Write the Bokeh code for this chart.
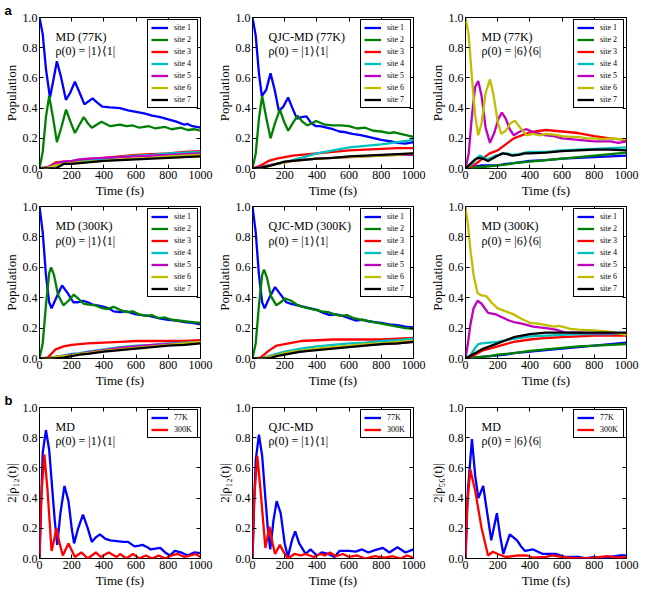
from bokeh.plotting import figure
from bokeh.layouts import gridplot
from bokeh.models import Label, LinearAxis, Range1d, FixedTicker, PrintfTickFormatter
from bokeh.embed import file_html
from bokeh.resources import INLINE

FONT = "Liberation Serif"
SITE_COLORS = ["#0000ff", "#008000", "#ff0000", "#00bfbf", "#bf00bf", "#bfbf00", "#000000"]
SITE_NAMES = ["site 1", "site 2", "site 3", "site 4", "site 5", "site 6", "site 7"]
TEMP_COLORS = ["#0000ff", "#ff0000"]
TEMP_NAMES = ["77K", "300K"]
X_TICKS = [0, 200, 400, 600, 800, 1000]
Y_TICKS = [0.0, 0.2, 0.4, 0.6, 0.8, 1.0]

# common coarse time grid for slowly varying populations (fs)
T_SLOW = [0, 50, 100, 150, 200, 250, 300, 400, 500, 600, 700, 800, 900, 1000]

# ---------------- a: MD (77K), rho(0)=|1><1| ----------------
A1_S1_T = [0, 20, 40, 65, 85, 108, 135, 164, 190, 220, 250, 279, 305, 329, 355, 390, 440, 500, 550, 600, 650, 700, 750, 800, 850, 900, 920, 950, 1000]
A1_S1 = [1.0, 0.89, 0.66, 0.47, 0.58, 0.71, 0.60, 0.455, 0.50, 0.575, 0.50, 0.425, 0.445, 0.465, 0.44, 0.41, 0.405, 0.40, 0.385, 0.375, 0.365, 0.35, 0.34, 0.325, 0.31, 0.29, 0.295, 0.28, 0.27]
A1_S2_T = [0, 20, 40, 60, 85, 108, 135, 165, 192, 220, 248, 275, 300, 325, 355, 385, 440, 500, 540, 580, 620, 680, 720, 780, 820, 880, 920, 960, 1000]
A1_S2 = [0.0, 0.11, 0.34, 0.48, 0.33, 0.175, 0.27, 0.39, 0.31, 0.235, 0.29, 0.34, 0.30, 0.27, 0.29, 0.31, 0.28, 0.29, 0.28, 0.285, 0.27, 0.28, 0.265, 0.275, 0.26, 0.27, 0.255, 0.26, 0.25]
A1_S3 = [0, 0.005, 0.04, 0.045, 0.045, 0.055, 0.06, 0.07, 0.08, 0.09, 0.095, 0.10, 0.11, 0.115]
A1_S4 = [0, 0.005, 0.02, 0.03, 0.035, 0.045, 0.05, 0.065, 0.075, 0.085, 0.09, 0.10, 0.105, 0.11]
A1_S5 = [0, 0.01, 0.03, 0.045, 0.05, 0.06, 0.065, 0.07, 0.075, 0.08, 0.085, 0.09, 0.095, 0.10]
A1_S6 = [0, 0.005, 0.02, 0.03, 0.035, 0.04, 0.045, 0.05, 0.06, 0.065, 0.07, 0.08, 0.085, 0.09]
A1_S7 = [0, 0.0, 0.0, 0.03, 0.03, 0.035, 0.04, 0.05, 0.055, 0.06, 0.065, 0.07, 0.075, 0.08]

# ---------------- a: QJC-MD (77K), rho(0)=|1><1| ----------------
A2_S1_T = [0, 20, 40, 58, 85, 112, 138, 164, 192, 221, 248, 276, 305, 335, 365, 395, 420, 460, 500, 540, 580, 620, 680, 720, 760, 800, 860, 900, 950, 1000]
A2_S1 = [1.0, 0.88, 0.63, 0.48, 0.52, 0.63, 0.52, 0.38, 0.41, 0.47, 0.40, 0.33, 0.34, 0.345, 0.30, 0.28, 0.28, 0.27, 0.26, 0.245, 0.24, 0.23, 0.22, 0.21, 0.20, 0.19, 0.18, 0.17, 0.165, 0.175]
A2_S2_T = [0, 20, 40, 60, 85, 112, 140, 170, 196, 222, 250, 280, 310, 340, 368, 395, 450, 500, 550, 600, 650, 700, 750, 800, 850, 880, 920, 960, 1000]
A2_S2 = [0.0, 0.10, 0.33, 0.48, 0.34, 0.20, 0.30, 0.39, 0.31, 0.25, 0.30, 0.35, 0.31, 0.285, 0.30, 0.315, 0.29, 0.285, 0.285, 0.28, 0.265, 0.27, 0.25, 0.245, 0.235, 0.24, 0.23, 0.22, 0.21]
A2_S3 = [0, 0.02, 0.05, 0.065, 0.075, 0.085, 0.09, 0.10, 0.11, 0.12, 0.125, 0.13, 0.135, 0.135]
A2_S4 = [0, 0.005, 0.02, 0.03, 0.04, 0.055, 0.07, 0.10, 0.12, 0.14, 0.15, 0.16, 0.175, 0.19]
A2_S5 = [0, 0.01, 0.02, 0.03, 0.04, 0.05, 0.055, 0.065, 0.07, 0.075, 0.08, 0.085, 0.09, 0.09]
A2_S6 = [0, 0.005, 0.015, 0.03, 0.04, 0.05, 0.055, 0.065, 0.07, 0.075, 0.08, 0.085, 0.09, 0.10]
A2_S7 = [0, 0.005, 0.015, 0.03, 0.045, 0.05, 0.055, 0.065, 0.07, 0.08, 0.085, 0.09, 0.095, 0.10]

# ---------------- a: MD (77K), rho(0)=|6><6| ----------------
A3_S1 = [0, 0.01, 0.02, 0.02, 0.02, 0.03, 0.035, 0.05, 0.055, 0.065, 0.07, 0.075, 0.08, 0.085]
A3_S2 = [0, 0.005, 0.01, 0.015, 0.02, 0.025, 0.035, 0.045, 0.055, 0.065, 0.075, 0.085, 0.095, 0.105]
A3_S3 = [0, 0.02, 0.06, 0.10, 0.12, 0.16, 0.20, 0.24, 0.255, 0.245, 0.235, 0.215, 0.20, 0.19]
A3_S4_T = [0, 40, 70, 90, 110, 130, 160, 185, 210, 235, 260, 290, 330, 370, 400, 500, 600, 700, 800, 900, 1000]
A3_S4 = [0, 0.03, 0.07, 0.085, 0.075, 0.06, 0.07, 0.085, 0.09, 0.10, 0.10, 0.09, 0.095, 0.105, 0.11, 0.11, 0.12, 0.125, 0.13, 0.135, 0.14]
A3_S5_T = [0, 20, 40, 60, 79, 100, 125, 152, 180, 205, 226, 250, 275, 300, 330, 360, 380, 420, 460, 500, 550, 600, 650, 700, 750, 800, 850, 900, 950, 1000]
A3_S5 = [0.0, 0.10, 0.35, 0.54, 0.58, 0.48, 0.27, 0.17, 0.24, 0.33, 0.37, 0.33, 0.26, 0.22, 0.24, 0.255, 0.26, 0.24, 0.23, 0.22, 0.215, 0.20, 0.195, 0.19, 0.185, 0.18, 0.18, 0.18, 0.17, 0.18]
A3_S6_T = [0, 20, 40, 60, 79, 100, 125, 152, 175, 200, 222, 250, 280, 307, 340, 380, 420, 460, 500, 550, 600, 650, 700, 750, 800, 850, 900, 950, 1000]
A3_S6 = [1.0, 0.88, 0.60, 0.35, 0.22, 0.30, 0.50, 0.59, 0.48, 0.31, 0.23, 0.25, 0.30, 0.317, 0.27, 0.22, 0.23, 0.22, 0.23, 0.225, 0.215, 0.21, 0.21, 0.20, 0.20, 0.195, 0.20, 0.195, 0.195]
A3_S7_T = [0, 40, 60, 80, 110, 140, 165, 190, 230, 260, 290, 330, 370, 400, 500, 600, 700, 800, 900, 1000]
A3_S7 = [0, 0.04, 0.06, 0.07, 0.065, 0.05, 0.065, 0.08, 0.10, 0.095, 0.085, 0.09, 0.10, 0.10, 0.105, 0.115, 0.12, 0.125, 0.125, 0.12]

# ---------------- a: MD (300K), rho(0)=|1><1| ----------------
B1_S1_T = [0, 20, 40, 60, 75, 100, 140, 175, 210, 240, 270, 300, 330, 360, 400, 430, 460, 500, 540, 570, 600, 640, 680, 720, 760, 800, 850, 900, 950, 1000]
B1_S1 = [1.0, 0.83, 0.55, 0.37, 0.33, 0.39, 0.48, 0.43, 0.37, 0.37, 0.38, 0.37, 0.355, 0.35, 0.34, 0.33, 0.31, 0.305, 0.31, 0.30, 0.29, 0.285, 0.28, 0.27, 0.26, 0.255, 0.25, 0.24, 0.235, 0.225]
B1_S2_T = [0, 20, 40, 60, 72, 90, 115, 148, 180, 212, 245, 275, 310, 345, 380, 420, 460, 500, 540, 580, 620, 660, 700, 740, 780, 820, 860, 900, 950, 1000]
B1_S2 = [0.0, 0.10, 0.35, 0.56, 0.60, 0.55, 0.42, 0.35, 0.38, 0.42, 0.39, 0.36, 0.355, 0.35, 0.335, 0.325, 0.34, 0.32, 0.305, 0.31, 0.29, 0.28, 0.285, 0.265, 0.27, 0.255, 0.25, 0.245, 0.24, 0.235]
B1_S3 = [0, 0.005, 0.06, 0.08, 0.09, 0.095, 0.10, 0.105, 0.11, 0.115, 0.115, 0.115, 0.115, 0.12]
B1_S4 = [0, 0.0, 0.01, 0.02, 0.03, 0.035, 0.045, 0.06, 0.075, 0.085, 0.09, 0.10, 0.105, 0.11]
B1_S5 = [0, 0.0, 0.01, 0.015, 0.025, 0.03, 0.04, 0.055, 0.07, 0.08, 0.09, 0.095, 0.10, 0.11]
B1_S6 = [0, 0.0, 0.01, 0.015, 0.02, 0.03, 0.035, 0.05, 0.06, 0.07, 0.08, 0.09, 0.10, 0.11]
B1_S7 = [0, 0.0, 0.0, 0.005, 0.015, 0.025, 0.03, 0.045, 0.055, 0.065, 0.075, 0.085, 0.09, 0.10]

# ---------------- a: QJC-MD (300K), rho(0)=|1><1| ----------------
B2_S1_T = [0, 20, 40, 60, 75, 100, 140, 175, 210, 240, 280, 320, 360, 400, 440, 480, 520, 560, 600, 640, 680, 720, 760, 800, 850, 900, 950, 1000]
B2_S1 = [1.0, 0.83, 0.55, 0.37, 0.33, 0.39, 0.47, 0.42, 0.37, 0.36, 0.35, 0.34, 0.33, 0.32, 0.30, 0.285, 0.29, 0.28, 0.265, 0.25, 0.255, 0.245, 0.24, 0.235, 0.225, 0.22, 0.21, 0.205]
B2_S2_T = [0, 20, 40, 60, 72, 90, 115, 148, 175, 205, 240, 275, 310, 350, 390, 430, 470, 510, 550, 590, 630, 670, 710, 750, 800, 850, 900, 950, 1000]
B2_S2 = [0.0, 0.10, 0.35, 0.55, 0.585, 0.53, 0.41, 0.35, 0.37, 0.395, 0.38, 0.355, 0.34, 0.33, 0.32, 0.31, 0.305, 0.29, 0.28, 0.285, 0.265, 0.255, 0.25, 0.24, 0.23, 0.22, 0.21, 0.20, 0.195]
B2_S3 = [0, 0.005, 0.05, 0.085, 0.095, 0.105, 0.115, 0.12, 0.125, 0.125, 0.125, 0.125, 0.13, 0.135]
B2_S4 = [0, 0.0, 0.015, 0.03, 0.045, 0.055, 0.065, 0.08, 0.09, 0.10, 0.105, 0.115, 0.12, 0.13]
B2_S5 = [0, 0.0, 0.01, 0.02, 0.03, 0.04, 0.045, 0.06, 0.07, 0.08, 0.09, 0.095, 0.10, 0.11]
B2_S6 = [0, 0.0, 0.01, 0.02, 0.035, 0.045, 0.05, 0.065, 0.075, 0.085, 0.095, 0.10, 0.11, 0.115]
B2_S7 = [0, 0.0, 0.0, 0.015, 0.025, 0.035, 0.045, 0.055, 0.065, 0.075, 0.085, 0.095, 0.10, 0.11]

# ---------------- a: MD (300K), rho(0)=|6><6| ----------------
B3_S1 = [0, 0.005, 0.01, 0.015, 0.02, 0.025, 0.035, 0.045, 0.055, 0.065, 0.075, 0.085, 0.095, 0.105]
B3_S2 = [0, 0.005, 0.01, 0.015, 0.025, 0.03, 0.035, 0.05, 0.06, 0.07, 0.08, 0.085, 0.09, 0.095]
B3_S3 = [0, 0.02, 0.05, 0.065, 0.08, 0.095, 0.11, 0.125, 0.135, 0.14, 0.145, 0.15, 0.15, 0.15]
B3_S4_T = [0, 30, 60, 80, 100, 150, 200, 300, 400, 500, 600, 700, 800, 900, 1000]
B3_S4 = [0, 0.02, 0.07, 0.095, 0.10, 0.105, 0.11, 0.13, 0.145, 0.15, 0.155, 0.16, 0.16, 0.16, 0.165]
B3_S5_T = [0, 15, 30, 50, 75, 100, 140, 190, 230, 270, 300, 350, 420, 500, 560, 620, 700, 800, 900, 1000]
B3_S5 = [0, 0.10, 0.22, 0.33, 0.38, 0.36, 0.30, 0.29, 0.27, 0.25, 0.24, 0.23, 0.21, 0.20, 0.19, 0.17, 0.17, 0.165, 0.165, 0.165]
B3_S6_T = [0, 15, 30, 50, 75, 100, 130, 160, 200, 250, 300, 350, 400, 450, 500, 550, 580, 620, 650, 700, 800, 900, 950, 1000]
B3_S6 = [1.0, 0.88, 0.72, 0.55, 0.43, 0.415, 0.41, 0.37, 0.33, 0.31, 0.29, 0.26, 0.235, 0.23, 0.22, 0.21, 0.215, 0.205, 0.195, 0.19, 0.185, 0.175, 0.165, 0.155]
B3_S7 = [0, 0.03, 0.06, 0.08, 0.10, 0.12, 0.14, 0.16, 0.17, 0.17, 0.17, 0.17, 0.17, 0.17]

# ---------------- b: coherences 2|rho_ij(t)| ----------------
C1_77_T = [0, 10, 20, 40, 60, 80, 95, 110, 130, 155, 180, 200, 215, 240, 270, 300, 325, 350, 375, 410, 440, 480, 520, 550, 590, 620, 640, 670, 690, 720, 750, 780, 810, 840, 880, 920, 960, 1000]
C1_77 = [0, 0.35, 0.70, 0.85, 0.72, 0.45, 0.25, 0.09, 0.30, 0.48, 0.38, 0.20, 0.10, 0.20, 0.29, 0.20, 0.11, 0.14, 0.16, 0.13, 0.12, 0.115, 0.11, 0.11, 0.08, 0.085, 0.09, 0.075, 0.06, 0.065, 0.07, 0.04, 0.02, 0.05, 0.04, 0.02, 0.04, 0.035]
C1_300_T = [0, 10, 30, 50, 75, 90, 105, 125, 145, 180, 220, 260, 300, 350, 380, 430, 480, 500, 540, 580, 620, 660, 700, 740, 780, 820, 860, 900, 940, 970, 1000]
C1_300 = [0, 0.40, 0.69, 0.45, 0.05, 0.12, 0.20, 0.10, 0.02, 0.10, 0.01, 0.04, 0.0, 0.04, 0.01, 0.04, 0.01, 0.03, 0.0, 0.03, 0.0, 0.02, 0.0, 0.02, 0.0, 0.02, 0.03, 0.01, 0.02, 0.03, 0.01]

C2_77_T = [0, 10, 20, 40, 60, 80, 95, 110, 130, 150, 175, 200, 220, 245, 265, 290, 330, 360, 400, 430, 470, 510, 540, 600, 640, 680, 720, 760, 810, 850, 900, 950, 1000]
C2_77 = [0, 0.35, 0.65, 0.82, 0.68, 0.40, 0.20, 0.06, 0.25, 0.38, 0.30, 0.10, 0.01, 0.12, 0.18, 0.10, 0.03, 0.06, 0.02, 0.04, 0.03, 0.01, 0.05, 0.05, 0.045, 0.06, 0.04, 0.055, 0.07, 0.04, 0.075, 0.04, 0.06]
C2_300_T = [0, 10, 30, 50, 80, 105, 125, 140, 170, 195, 220, 260, 300, 330, 380, 420, 450, 480, 520, 560, 600, 650, 700, 760, 820, 870, 920, 960, 1000]
C2_300 = [0, 0.40, 0.68, 0.45, 0.07, 0.21, 0.10, 0.03, 0.09, 0.04, 0.0, 0.03, 0.02, 0.03, 0.01, 0.03, 0.02, 0.04, 0.015, 0.03, 0.01, 0.02, 0.0, 0.015, 0.005, 0.015, 0.0, 0.02, 0.005]

C3_77_T = [0, 15, 40, 60, 80, 110, 135, 160, 195, 215, 235, 275, 320, 345, 370, 420, 480, 560, 620, 700, 750, 800, 850, 900, 960, 1000]
C3_77 = [0, 0.45, 0.79, 0.55, 0.40, 0.48, 0.30, 0.12, 0.30, 0.15, 0.03, 0.16, 0.12, 0.08, 0.05, 0.06, 0.03, 0.03, 0.01, 0.01, 0.0, 0.01, 0.0, 0.01, 0.02, 0.02]
C3_300_T = [0, 10, 30, 60, 100, 140, 170, 200, 250, 330, 380, 420, 500, 540, 600, 700, 800, 880, 950, 1000]
C3_300 = [0, 0.35, 0.59, 0.45, 0.20, 0.02, 0.045, 0.03, 0.01, 0.02, 0.02, 0.005, 0.01, 0.02, 0.01, 0.0, 0.005, 0.015, 0.005, 0.01]

FRAME_H = 154


def make_panel(title, state, ylabel, series, names, colors, top, width=213, letter=None):
    p = figure(width=width, height=FRAME_H + top + 30,
               x_range=Range1d(0, 1000), y_range=Range1d(0, 1),
               output_backend="svg", toolbar_location=None,
               min_border_left=36, min_border_right=width - 36 - 164,
               min_border_top=top, min_border_bottom=30,
               background_fill_color="white", border_fill_color="white")
    p.grid.visible = False
    p.outline_line_color = "black"
    p.outline_line_width = 1
    p.outline_line_alpha = 1

    for (t, y), name, c in zip(series, names, colors):
        p.line(t, y, line_color=c, line_width=2.3, legend_label=name)

    for ax in (p.xaxis[0], p.yaxis[0]):
        ax.major_tick_in = 4
        ax.major_tick_out = 0
        ax.minor_tick_line_color = None
        ax.axis_line_color = None
        ax.major_tick_line_color = "black"
        ax.major_label_text_font = FONT
        ax.major_label_text_font_size = "12px"
        ax.major_label_text_color = "black"
        ax.major_label_standoff = 2
        ax.axis_label_text_font = FONT
        ax.axis_label_text_font_size = "13px"
        ax.axis_label_text_font_style = "normal"
        ax.axis_label_text_color = "black"
        ax.axis_label_standoff = 1
    p.xaxis.ticker = FixedTicker(ticks=X_TICKS)
    p.yaxis.ticker = FixedTicker(ticks=Y_TICKS)
    p.yaxis.formatter = PrintfTickFormatter(format="%.1f")
    p.xaxis.axis_label = "Time (fs)"
    p.yaxis.axis_label = ylabel

    # mirrored tick marks on top and right (no labels drawn)
    top_ax = LinearAxis(ticker=FixedTicker(ticks=X_TICKS), major_tick_in=4, major_tick_out=0,
                        minor_tick_line_color=None, axis_line_color=None,
                        major_label_text_color=None, major_label_text_font_size="1px",
                        major_label_standoff=0)
    right_ax = LinearAxis(ticker=FixedTicker(ticks=Y_TICKS), major_tick_in=4, major_tick_out=0,
                          minor_tick_line_color=None, axis_line_color=None,
                          major_label_text_color=None, major_label_text_font_size="1px",
                          major_label_standoff=0)
    p.add_layout(top_ax, "above")
    p.add_layout(right_ax, "right")

    lg = p.legend[0]
    lg.location = "top_right"
    lg.border_line_color = "black"
    lg.border_line_width = 1
    lg.border_line_alpha = 1
    lg.background_fill_color = "white"
    lg.background_fill_alpha = 1
    lg.label_text_font = FONT
    lg.label_text_font_size = "8px"
    lg.label_text_color = "black"
    lg.glyph_width = 17
    lg.glyph_height = 9
    lg.label_height = 9
    lg.spacing = 3
    lg.padding = 3
    lg.margin = 2
    lg.label_standoff = 6

    p.add_layout(Label(x=100, y=0.87, text=title, text_font=FONT, text_font_size="12px",
                       text_baseline="middle", text_align="left", text_color="black"))
    p.add_layout(Label(x=100, y=0.775, text=state, text_font=FONT, text_font_size="12px",
                       text_baseline="middle", text_align="left", text_color="black"))
    if letter:
        p.title.text = letter
        p.title.align = "left"
        p.title.offset = -35
        p.title.standoff = 0
        p.title.text_font = "Liberation Sans"
        p.title.text_font_style = "bold"
        p.title.text_font_size = "13px"
        p.title.text_color = "black"
    return p


def sites(t_list, y_list):
    return list(zip(t_list, y_list))


S1 = "\u03c1(0) = |1\u27e9\u27e81|"
S6 = "\u03c1(0) = |6\u27e9\u27e86|"
POP = "Population"

a1 = make_panel("MD (77K)", S1, POP, sites(
    [A1_S1_T, A1_S2_T, T_SLOW, T_SLOW, T_SLOW, T_SLOW, T_SLOW],
    [A1_S1, A1_S2, A1_S3, A1_S4, A1_S5, A1_S6, A1_S7]), SITE_NAMES, SITE_COLORS, 16, letter="a")
a2 = make_panel("QJC-MD (77K)", S1, POP, sites(
    [A2_S1_T, A2_S2_T, T_SLOW, T_SLOW, T_SLOW, T_SLOW, T_SLOW],
    [A2_S1, A2_S2, A2_S3, A2_S4, A2_S5, A2_S6, A2_S7]), SITE_NAMES, SITE_COLORS, 16)
a3 = make_panel("MD (77K)", S6, POP, sites(
    [T_SLOW, T_SLOW, T_SLOW, A3_S4_T, A3_S5_T, A3_S6_T, A3_S7_T],
    [A3_S1, A3_S2, A3_S3, A3_S4, A3_S5, A3_S6, A3_S7]), SITE_NAMES, SITE_COLORS, 16, width=214)

b1 = make_panel("MD (300K)", S1, POP, sites(
    [B1_S1_T, B1_S2_T, T_SLOW, T_SLOW, T_SLOW, T_SLOW, T_SLOW],
    [B1_S1, B1_S2, B1_S3, B1_S4, B1_S5, B1_S6, B1_S7]), SITE_NAMES, SITE_COLORS, 6)
b2 = make_panel("QJC-MD (300K)", S1, POP, sites(
    [B2_S1_T, B2_S2_T, T_SLOW, T_SLOW, T_SLOW, T_SLOW, T_SLOW],
    [B2_S1, B2_S2, B2_S3, B2_S4, B2_S5, B2_S6, B2_S7]), SITE_NAMES, SITE_COLORS, 6)
b3 = make_panel("MD (300K)", S6, POP, sites(
    [T_SLOW, T_SLOW, T_SLOW, B3_S4_T, B3_S5_T, B3_S6_T, T_SLOW],
    [B3_S1, B3_S2, B3_S3, B3_S4, B3_S5, B3_S6, B3_S7]), SITE_NAMES, SITE_COLORS, 6, width=214)

Y12 = "2|\u03c1\u2081\u2082(t)|"
Y56 = "2|\u03c1\u2085\u2086(t)|"
c1 = make_panel("MD", S1, Y12, sites([C1_77_T, C1_300_T], [C1_77, C1_300]),
                TEMP_NAMES, TEMP_COLORS, 16, letter="b")
c2 = make_panel("QJC-MD", S1, Y12, sites([C2_77_T, C2_300_T], [C2_77, C2_300]),
                TEMP_NAMES, TEMP_COLORS, 16)
c3 = make_panel("MD", S6, Y56, sites([C3_77_T, C3_300_T], [C3_77, C3_300]),
                TEMP_NAMES, TEMP_COLORS, 16, width=214)

grid = gridplot([[a1, a2, a3], [b1, b2, b3], [c1, c2, c3]], toolbar_location=None)

open("out.html", "w").write(file_html(grid, INLINE))
